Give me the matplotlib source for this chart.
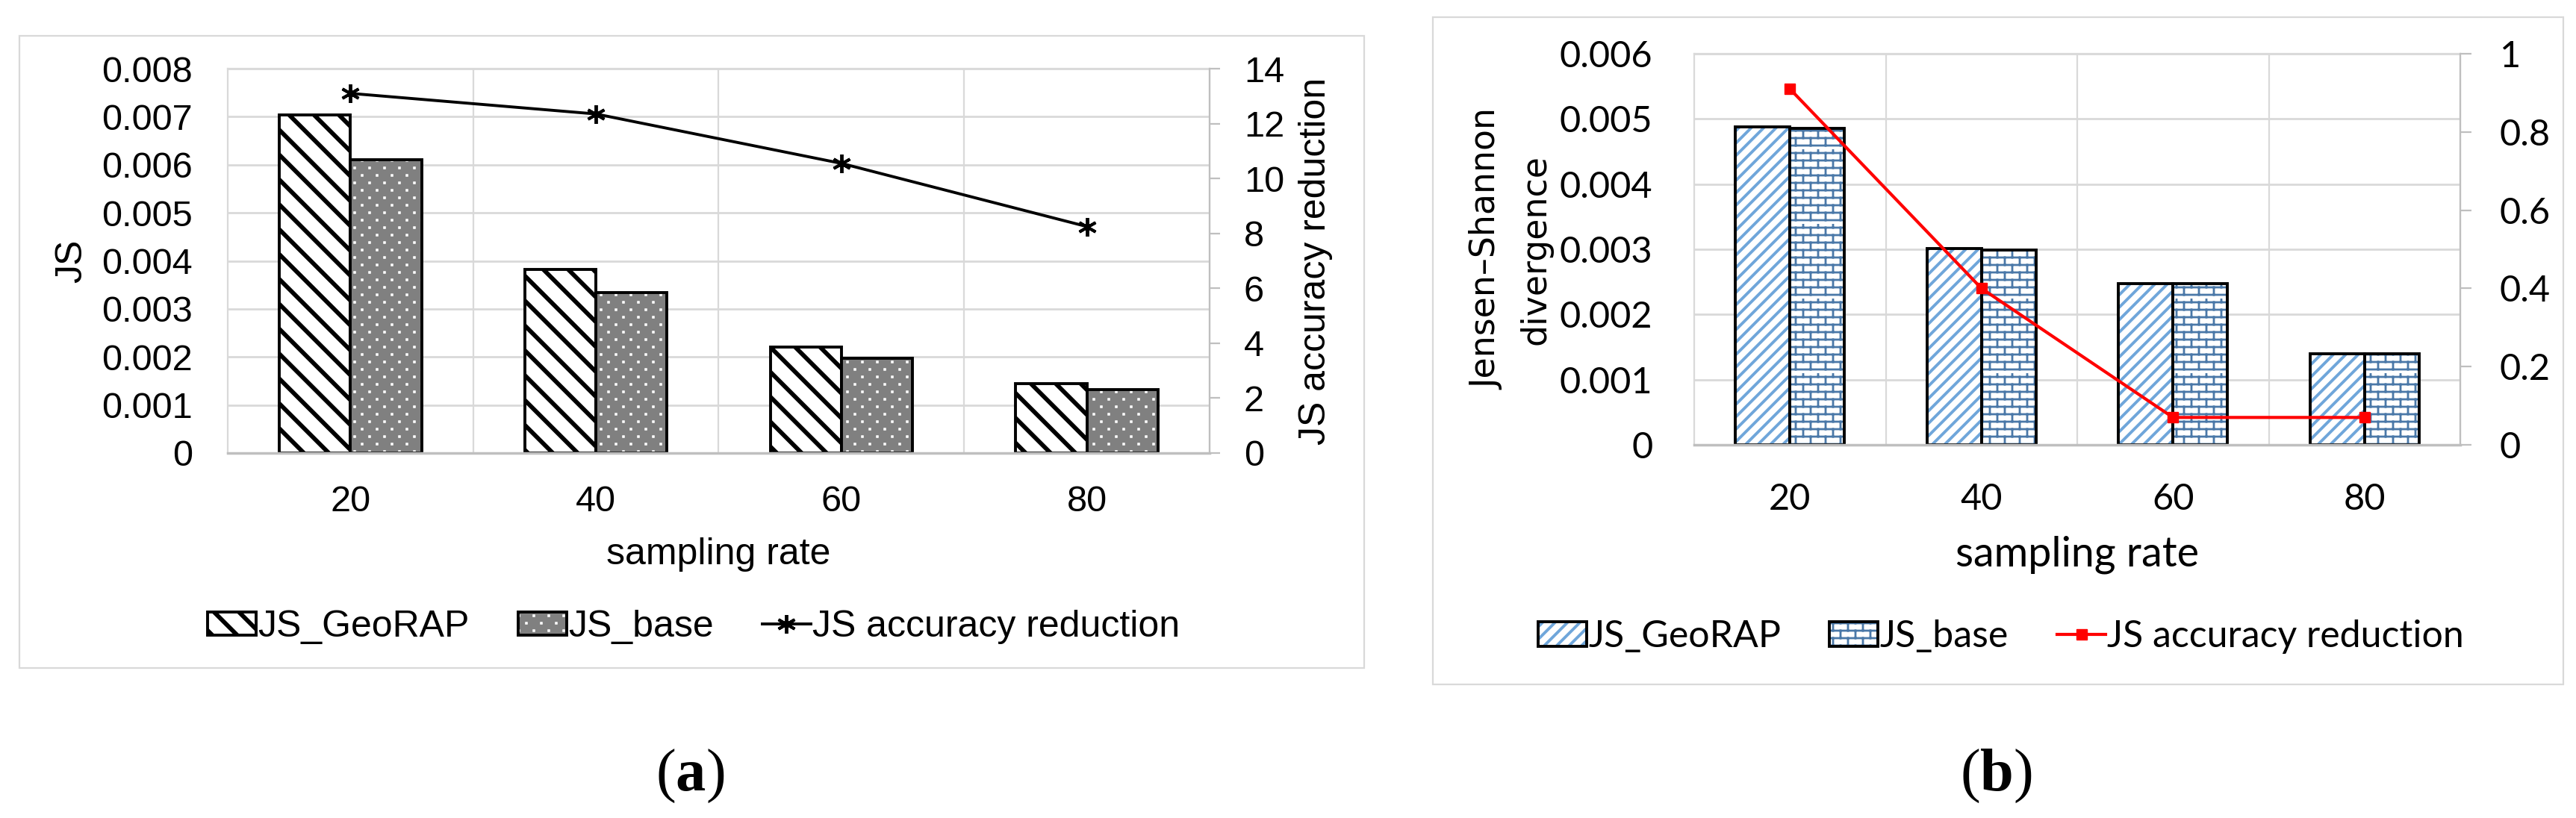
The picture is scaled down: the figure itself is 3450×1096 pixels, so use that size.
import matplotlib
matplotlib.use('Agg')
import matplotlib.pyplot as plt
import matplotlib.hatch as mhatch
from matplotlib.path import Path
from matplotlib.patches import Rectangle
from matplotlib.colors import to_rgba
from matplotlib.ticker import FixedLocator, FuncFormatter
import numpy as np

# ---------------- data ----------------
categories = ['20', '40', '60', '80']
series_names = ['JS_GeoRAP', 'JS_base', 'JS accuracy reduction']

a_georap = [0.00703, 0.00382, 0.00220, 0.00144]
a_base = [0.00610, 0.00334, 0.00197, 0.00132]
a_reduction = [13.1, 12.35, 10.55, 8.25]
a_left_ticks = [0, 0.001, 0.002, 0.003, 0.004, 0.005, 0.006, 0.007, 0.008]
a_right_ticks = [0, 2, 4, 6, 8, 10, 12, 14]

b_georap = [0.00488, 0.00301, 0.00247, 0.00140]
b_base = [0.00485, 0.00299, 0.00247, 0.00140]
b_reduction = [0.91, 0.40, 0.07, 0.07]
b_left_ticks = [0, 0.001, 0.002, 0.003, 0.004, 0.005, 0.006]
b_right_ticks = [0, 0.2, 0.4, 0.6, 0.8, 1]

a_ylabel = 'JS'
a_y2label = 'JS accuracy reduction'
b_ylabel = ['Jensen\u2013Shannon', 'divergence']
xlabel = 'sampling rate'
panel_tags = ['a', 'b']

# ---------------- custom hatches ----------------
class BrickHatch(mhatch.HatchPatternBase):
    def __init__(self, hatch, density):
        n = hatch.count('b')
        self.rows = 10 * n
        self.cols = 5 * n
        self.num_vertices = (self.rows * 2 + self.rows * self.cols * 2) if n else 0

    def set_vertices_and_codes(self, vertices, codes):
        k = 0
        for i in range(self.rows):
            y = (i + 0.5) / self.rows
            vertices[k] = (0.0, y); vertices[k + 1] = (1.0, y)
            codes[k] = Path.MOVETO; codes[k + 1] = Path.LINETO
            k += 2
        for i in range(self.rows):
            y0 = (i + 0.5) / self.rows
            y1 = (i + 1.5) / self.rows
            off = 0.5 / self.cols if i % 2 else 0.0
            for j in range(self.cols):
                xx = (j + 0.25) / self.cols + off
                vertices[k] = (xx, y0); vertices[k + 1] = (xx, min(y1, 1.0))
                codes[k] = Path.MOVETO; codes[k + 1] = Path.LINETO
                k += 2


class DotHatch(mhatch.HatchPatternBase):
    def __init__(self, hatch, density):
        n = hatch.count('d')
        self.rows = 10 * n
        self.cols = 5 * n
        self.h = 0.012
        self.num_vertices = self.rows * self.cols * 5 if n else 0

    def set_vertices_and_codes(self, vertices, codes):
        k = 0
        h = self.h
        for i in range(self.rows):
            y = (i + 0.5) / self.rows
            off = 0.5 / self.cols if i % 2 else 0.0
            for j in range(self.cols):
                xx = (j + 0.25) / self.cols + off
                pts = [(xx - h, y - h), (xx + h, y - h), (xx + h, y + h), (xx - h, y + h), (xx - h, y - h)]
                for m, pt in enumerate(pts):
                    vertices[k + m] = pt
                codes[k] = Path.MOVETO
                codes[k + 1] = Path.LINETO
                codes[k + 2] = Path.LINETO
                codes[k + 3] = Path.LINETO
                codes[k + 4] = Path.CLOSEPOLY
                k += 5


mhatch._hatch_types.append(BrickHatch)
mhatch._hatch_types.append(DotHatch)
mhatch._validate_hatch_pattern = lambda hatch: None


def style_hatch(p, color, lw):
    p._hatch_color = to_rgba(color)
    if hasattr(p, 'set_hatch_linewidth'):
        try:
            p.set_hatch_linewidth(lw)
        except Exception:
            pass
    p._hatch_linewidth = lw
    orig = p.draw

    def draw(renderer, _orig=orig, _lw=lw):
        with plt.rc_context({'hatch.linewidth': _lw}):
            _orig(renderer)
    p.draw = draw
    p.stale = True


# ---------------- figure ----------------
W, H, DPI = 3450, 1096, 100
fig = plt.figure(figsize=(W / DPI, H / DPI), dpi=DPI)
plt.rcParams['mathtext.fontset'] = 'custom'
plt.rcParams['mathtext.rm'] = 'Liberation Serif'
plt.rcParams['mathtext.bf'] = 'Liberation Serif:bold'


def fx(x):
    return x / W


def fy(y):
    return 1 - y / H


def axes_px(l, t, r, b):
    return fig.add_axes([l / W, 1 - b / H, (r - l) / W, (b - t) / H])


def panel_box(l, t, r, b):
    fig.add_artist(Rectangle((fx(l), fy(b)), (r - l) / W, (b - t) / H,
                             transform=fig.transFigure, fill=False,
                             edgecolor='#d9d9d9', linewidth=1.6, zorder=0))


GRID = '#d9d9d9'
AXC = '#bfbfbf'
fmt = FuncFormatter(lambda v, p: '%g' % v)
x = np.arange(len(categories))


def setup_axes(ax, ax2, left_ticks, right_ticks, font, tsize, lpad, rpad, xpad, tick_len):
    ax.set_xlim(-0.5, len(categories) - 0.5)
    ax.set_ylim(left_ticks[0], left_ticks[-1])
    ax.yaxis.set_major_locator(FixedLocator(left_ticks))
    ax.yaxis.set_major_formatter(fmt)
    ax.set_xticks(x)
    ax.set_xticklabels(categories)
    ax.xaxis.set_minor_locator(FixedLocator(x[:-1] + 0.5))
    ax.set_axisbelow(True)
    ax.grid(axis='y', which='major', color=GRID, linewidth=2.0)
    ax.grid(axis='x', which='minor', color=GRID, linewidth=1.6)
    ax.tick_params(axis='y', length=0, pad=lpad, labelsize=tsize)
    ax.tick_params(axis='x', which='both', length=0, pad=xpad, labelsize=tsize)
    for s in ['left', 'top', 'right']:
        ax.spines[s].set_color(GRID)
        ax.spines[s].set_linewidth(1.6)
    ax.spines['bottom'].set_color(AXC)
    ax.spines['bottom'].set_linewidth(2.5)
    ax2.set_ylim(right_ticks[0], right_ticks[-1])
    ax2.yaxis.set_major_locator(FixedLocator(right_ticks))
    ax2.yaxis.set_major_formatter(fmt)
    ax2.tick_params(axis='y', length=tick_len, width=1.6, color=AXC, pad=rpad, labelsize=tsize)
    for s in ['left', 'top', 'bottom']:
        ax2.spines[s].set_visible(False)
    ax2.spines['right'].set_color(AXC)
    ax2.spines['right'].set_linewidth(1.6)
    for lab in ax.get_xticklabels() + ax.get_yticklabels() + ax2.get_yticklabels():
        lab.set_fontfamily(font)


# ================= panel (a) =================
panel_box(26, 48, 1827, 895)
FA = 'Liberation Sans'
axa = axes_px(305, 92, 1620, 607)
axa2 = axa.twinx()
setup_axes(axa, axa2, a_left_ticks, a_right_ticks, FA, 35, 34, 23, 31, 10)

LW_A = 4.2
bw = 0.29
ba1 = axa.bar(x - bw / 2, a_georap, bw, facecolor='white', edgecolor='black',
              linewidth=2.8, hatch='\\', label=series_names[0])
ba2 = axa.bar(x + bw / 2, a_base, bw, facecolor='#808080', edgecolor='black',
              linewidth=2.8, hatch='d', label=series_names[1])
for p in ba1:
    style_hatch(p, 'black', LW_A)
for p in ba2:
    style_hatch(p, 'white', 0.8)
la, = axa2.plot(x, a_reduction, color='black', linewidth=2.8,
                marker=(6, 2, 0), markersize=18, markeredgewidth=2.8,
                label=series_names[2])

fig.text(fx(96), fy(350), a_ylabel, rotation=90, ha='center', va='center',
         family=FA, fontsize=36)
fig.text(fx(1762), fy(350), a_y2label, rotation=90, ha='center', va='center',
         family=FA, fontsize=36)
fig.text(fx(962), fy(743), xlabel, ha='center', va='center', family=FA, fontsize=36)

lega = fig.legend([ba1, ba2, la], series_names, loc='center',
                  bbox_to_anchor=(fx(929), fy(840)), ncol=3, frameon=False,
                  prop={'family': FA, 'size': 36}, handlelength=1.3,
                  handleheight=0.6, handletextpad=0.05, columnspacing=1.3,
                  borderaxespad=0, borderpad=0)
lp = lega.get_patches()
style_hatch(lp[0], 'black', LW_A)
style_hatch(lp[1], 'white', 0.8)

fig.text(fx(924), fy(1040), r'($\mathbf{%s}$)' % panel_tags[0], ha='center',
         va='center', family='Liberation Serif', fontsize=58)

# ================= panel (b) =================
panel_box(1919, 23, 3433, 917)
FB = 'Lato'
axb = axes_px(2269, 72, 3295, 596)
axb2 = axb.twinx()
setup_axes(axb, axb2, b_left_ticks, b_right_ticks, FB, 35, 40, 27, 37, 11)

LW_B = 2.8
bw2 = 0.285
bb1 = axb.bar(x - bw2 / 2, b_georap, bw2, facecolor='white', edgecolor='black',
              linewidth=2.8, hatch='//', label=series_names[0])
bb2 = axb.bar(x + bw2 / 2, b_base, bw2, facecolor='white', edgecolor='black',
              linewidth=2.8, hatch='b', label=series_names[1])
for p in bb1:
    style_hatch(p, '#6fa6da', LW_B)
for p in bb2:
    style_hatch(p, '#4a78a8', 2.0)
lb, = axb2.plot(x, b_reduction, color='#ff0000', linewidth=3.0, marker='s',
                markersize=10, label=series_names[2])

fig.text(fx(1992), fy(334), b_ylabel[0], rotation=90, ha='center', va='center',
         family='DejaVu Sans', fontsize=33)
fig.text(fx(2057), fy(334), b_ylabel[1], rotation=90, ha='center', va='center',
         family='DejaVu Sans', fontsize=33)
fig.text(fx(2782), fy(743), xlabel, ha='center', va='center', family=FB, fontsize=40)

legb = fig.legend([bb1, bb2, lb], series_names, loc='center',
                  bbox_to_anchor=(fx(2680), fy(853)), ncol=3, frameon=False,
                  prop={'family': FB, 'size': 36}, handlelength=1.3,
                  handleheight=0.65, handletextpad=0.05, columnspacing=1.3,
                  borderaxespad=0, borderpad=0)
lpb = legb.get_patches()
style_hatch(lpb[0], '#6fa6da', LW_B)
style_hatch(lpb[1], '#4a78a8', 2.0)

fig.text(fx(2673), fy(1040), r'($\mathbf{%s}$)' % panel_tags[1], ha='center',
         va='center', family='Liberation Serif', fontsize=58)

fig.savefig('out.png', dpi=DPI, facecolor='white')
